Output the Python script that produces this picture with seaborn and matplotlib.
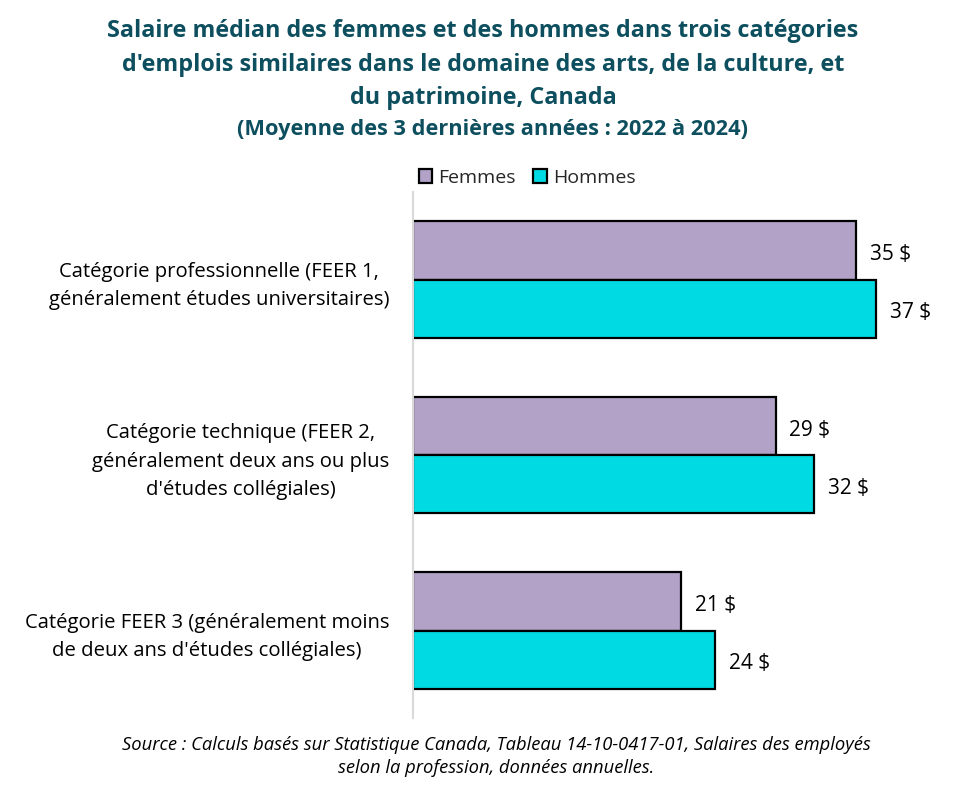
import matplotlib
matplotlib.use("Agg")
import matplotlib.pyplot as plt
import seaborn as sns
import pandas as pd

categories = [
    "Catégorie professionnelle (FEER 1,\ngénéralement études universitaires)",
    "Catégorie technique (FEER 2,\ngénéralement deux ans ou plus\nd'études collégiales)",
    "Catégorie FEER 3 (généralement moins\nde deux ans d'études collégiales)",
]
femmes = [35.3, 28.9, 21.4]
hommes = [36.9, 32.0, 24.1]
series = ["Femmes", "Hommes"]
colors = {"Femmes": "#b2a2c7", "Hommes": "#00dae2"}

sns.set_theme(style="white")
plt.rcParams["font.family"] = ["Open Sans", "DejaVu Sans"]

df = pd.DataFrame({
    "cat": categories * 2,
    "val": femmes + hommes,
    "sexe": ["Femmes"] * 3 + ["Hommes"] * 3,
})

fig = plt.figure(figsize=(9.66, 7.99), dpi=100)
ax = fig.add_axes([0.4275, 0.101, 0.5455, 0.659])
sns.barplot(data=df, y="cat", x="val", hue="sexe", hue_order=series,
            palette=colors, orient="h", width=0.665, edgecolor="black",
            linewidth=1.6, saturation=1, ax=ax, legend=True)

ax.set_xlim(0, 42)
ax.set_ylim(2.5, -0.5)
ax.set_xlabel("")
ax.set_ylabel("")
ax.set_xticks([])
for s in ["top", "right", "bottom"]:
    ax.spines[s].set_visible(False)
ax.spines["left"].set_color("#d9d9d9")
ax.spines["left"].set_linewidth(1.5)
ax.spines["left"].set_zorder(5)
ax.tick_params(axis="y", length=0, pad=17, labelsize=14.6, labelcolor="#000000")
for lab in ax.get_yticklabels():
    lab.set_multialignment("center")
    lab.set_linespacing(1.55)

for cont in ax.containers:
    anns = ax.bar_label(cont, labels=[f"{v:.0f} $" for v in cont.datavalues],
                        padding=10, fontsize=15, color="#000000")
    for a in anns:
        a.xyann = (10, -3)

handles, labels = ax.get_legend_handles_labels()
ax.legend(handles, labels, loc="center", bbox_to_anchor=(527 / 966, 1 - 178 / 799),
          bbox_transform=fig.transFigure, ncol=2, frameon=False, fontsize=14,
          handlelength=0.7, handleheight=0.7, handletextpad=0.3, columnspacing=0.9,
          borderaxespad=0)

title_color = "#0d4f5e"
fig.text(0.5, 1 - 31 / 799, "Salaire médian des femmes et des hommes dans trois catégories",
         ha="center", va="center", fontsize=16.8, fontweight="bold", color=title_color)
fig.text(0.5, 1 - 65 / 799, "d'emplois similaires dans le domaine des arts, de la culture, et",
         ha="center", va="center", fontsize=16.8, fontweight="bold", color=title_color)
fig.text(0.5, 1 - 98 / 799, "du patrimoine, Canada",
         ha="center", va="center", fontsize=16.8, fontweight="bold", color=title_color)
fig.text(0.51, 1 - 130 / 799, "(Moyenne des 3 dernières années : 2022 à 2024)",
         ha="center", va="center", fontsize=15.7, fontweight="bold", color=title_color)

fig.text(0.514, 1 - 745 / 799,
         "Source : Calculs basés sur Statistique Canada, Tableau 14-10-0417-01, Salaires des employés",
         ha="center", va="center", fontsize=13.2, style="italic", color="#000000")
fig.text(0.514, 1 - 768 / 799, "selon la profession, données annuelles.",
         ha="center", va="center", fontsize=13.2, style="italic", color="#000000")

fig.savefig("out.png", dpi=100)
